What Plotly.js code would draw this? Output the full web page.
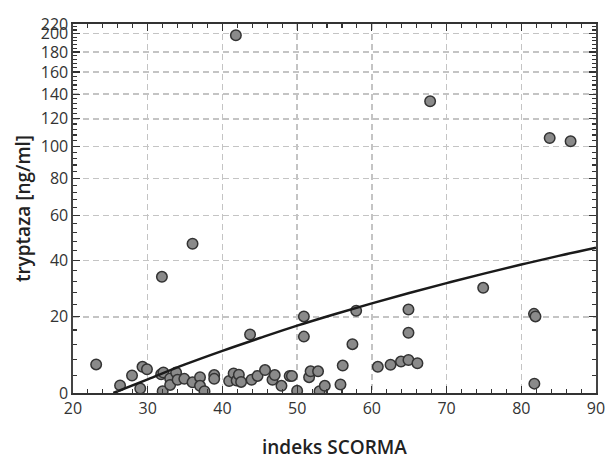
<!DOCTYPE html>
<html>
<head>
<meta charset="utf-8">
<script src="https://cdn.plot.ly/plotly-3.0.1.min.js"></script>
<style>html,body{margin:0;padding:0;background:#fff;}#chart{width:605px;height:459px;}</style>
</head>
<body>
<div id="chart"></div>
<script>
// Data (x = indeks SCORMA, y = tryptaza [ng/ml])
const scormaX = [23.1, 26.3, 27.9, 29.0, 29.3, 29.9, 31.8, 32.1, 32.0, 33.0, 33.0, 33.8, 34.0, 34.9, 36.0, 37.0, 37.0, 37.6, 38.9, 38.9,
                 40.9, 41.5, 41.9, 42.2, 42.5, 43.7, 43.9, 44.7, 45.7, 46.7, 47.0, 47.9, 49.0, 49.3, 50.0, 50.9, 50.9, 51.6, 51.8, 52.8,
                 53.0, 53.7, 55.8, 56.1, 57.4, 57.9, 60.8, 62.5, 63.9, 64.9, 64.9, 64.9, 66.1, 67.8, 74.9, 81.7, 81.9, 81.75, 83.8, 86.6,
                 41.8, 36.0, 31.9];
const tryptaza = [6.7, 1.7, 4.0, 1.0, 6.1, 5.5, 4.3, 4.7, 0.4, 3.3, 1.8, 4.7, 3.0, 3.2, 2.4, 3.6, 1.6, 0.4, 4.1, 3.2,
                  2.7, 4.5, 2.8, 4.2, 2.5, 14.7, 3.0, 3.9, 5.3, 3.0, 4.1, 1.6, 3.9, 3.9, 0.5, 20.1, 14.1, 3.6, 5.0, 5.0,
                  0.4, 1.6, 1.9, 6.4, 12.0, 21.9, 6.1, 6.6, 7.4, 7.8, 15.2, 22.3, 7.0, 134, 29.6, 20.9, 20.1, 2.1, 105.9, 103.6,
                  198, 46.9, 33.6];
// Trend line
const fitX = [25.4, 30, 35, 40, 45, 50, 55, 60, 65, 70, 75, 80, 85, 90];
const fitY = [0, 3.1, 6.7, 10.2, 13.7, 17.3, 20.8, 24.3, 27.8, 31.3, 34.8, 38.3, 41.8, 45.2];
// Axis ticks and titles
const xTickVals = [20, 30, 40, 50, 60, 70, 80, 90];
const yTickVals = [0, 20, 40, 60, 80, 100, 120, 140, 160, 180, 200];
const yTickLabels = ['0', '20', '40', '60', '80', '100', '120', '140', '160', '180', '200'];
const yTopLabel = '220';
const xTitle = 'indeks SCORMA';
const yTitle = 'tryptaza [ng/ml]';
const yTop = 211;      // value at the top of the plot frame
const yMinorStep = 4;

// Compressed (log-like) y scale used by the reference
const C = 48;
const T = v => Math.log(1 + v / C);

const minorVals = [];
for (let v = 0; v <= yTop; v += yMinorStep) minorVals.push(T(v));

const tickvals = yTickVals.map(T).concat([T(yTop)]);
const ticktext = yTickLabels.concat([yTopLabel]);

const font = {family: '"Open Sans", "Noto Sans", sans-serif', size: 16, color: '#333'};
const titleFont = {family: '"Open Sans", sans-serif', size: 19, color: '#222', weight: 600};

const traces = [
  {
    type: 'scatter', mode: 'markers',
    x: scormaX, y: tryptaza.map(T),
    marker: {size: 10.5, color: '#8a8a8a', line: {color: '#333', width: 1.5}},
    hoverinfo: 'skip'
  },
  {
    type: 'scatter', mode: 'lines',
    x: fitX, y: fitY.map(T),
    line: {color: '#1a1a1a', width: 2.5, shape: 'spline'},
    hoverinfo: 'skip'
  }
];

const layout = {
  width: 605, height: 459,
  margin: {l: 73, r: 9, t: 24, b: 66},
  paper_bgcolor: '#fff', plot_bgcolor: '#fff',
  showlegend: false,
  font: font,
  xaxis: {
    range: [20, 90],
    tickmode: 'array', tickvals: xTickVals,
    ticks: 'inside', ticklen: 7, tickwidth: 1.2, tickcolor: '#333',
    showline: true, linecolor: '#333', linewidth: 1.6, mirror: 'all',
    showgrid: true, gridcolor: '#c4c4c4', gridwidth: 1.5, griddash: '6px,4px',
    zeroline: false,
    tickfont: font, ticklabeloverflow: 'allow',
    minor: {dtick: 2, tick0: 20, ticks: 'inside', ticklen: 4, tickwidth: 1.1, tickcolor: '#333', showgrid: false}
  },
  yaxis: {
    range: [0, T(yTop)],
    tickmode: 'array', tickvals: tickvals, ticktext: ticktext,
    ticks: 'inside', ticklen: 7, tickwidth: 1.2, tickcolor: '#333',
    showline: true, linecolor: '#444', linewidth: 1.6, mirror: 'ticks',
    showgrid: true, gridcolor: '#c4c4c4', gridwidth: 1.5, griddash: '6px,4px',
    zeroline: false,
    tickfont: font, ticklabeloverflow: 'allow',
    minor: {tickmode: 'array', tickvals: minorVals, ticks: 'inside', ticklen: 4, tickwidth: 1.1, tickcolor: '#333', showgrid: false},
    title: {text: yTitle, font: titleFont, standoff: 5}
  },
  annotations: [
    {text: xTitle, xref: 'paper', yref: 'paper', x: 0.5, y: -0.146, xanchor: 'center', yanchor: 'middle',
     showarrow: false, font: titleFont, borderpad: 0}
  ]
};

Plotly.newPlot('chart', traces, layout, {staticPlot: true, displayModeBar: false});
</script>
</body>
</html>
